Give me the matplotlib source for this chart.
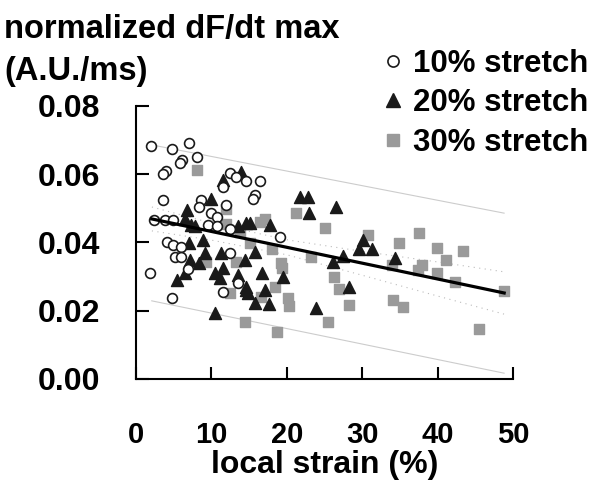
import matplotlib
matplotlib.use('Agg')
import matplotlib.pyplot as plt
from matplotlib.lines import Line2D

# 10% stretch (open circles)
x10 = [1.94, 4.72, 7.10, 6.12, 5.78, 8.13, 3.93, 3.61, 12.43, 13.32, 14.64, 11.55, 16.40,
       15.74, 15.52, 3.53, 8.69, 8.40, 10.01, 10.71, 12.00, 2.38, 3.84, 4.89, 9.50, 10.69,
       4.06, 4.93, 6.04, 5.16, 6.04, 1.85, 6.92, 4.72, 11.55, 12.43, 13.53, 19.05, 12.43]
y10 = [0.0682, 0.0673, 0.0691, 0.0643, 0.0634, 0.0651, 0.0610, 0.0602, 0.0603, 0.0591, 0.0579,
       0.0564, 0.0581, 0.0539, 0.0527, 0.0525, 0.0525, 0.0505, 0.0486, 0.0476, 0.0510, 0.0466,
       0.0467, 0.0467, 0.0451, 0.0447, 0.0400, 0.0392, 0.0388, 0.0358, 0.0358, 0.0310, 0.0321,
       0.0236, 0.0256, 0.0370, 0.0280, 0.0415, 0.0439]

# 20% stretch (filled triangles)
x20 = [13.98, 11.55, 9.99, 6.71, 6.48, 7.37, 7.80, 13.53, 14.64, 15.08, 17.72, 7.10, 8.90,
       9.13, 7.14, 8.37, 6.48, 5.46, 10.45, 11.11, 11.55, 11.34, 13.53, 14.64, 10.45, 14.42,
       21.69, 22.79, 26.55, 22.92, 30.07, 29.63, 31.31, 27.42, 26.10, 15.74, 16.76, 19.48,
       14.64, 14.85, 17.06, 15.74, 17.63, 23.90, 28.31, 34.39]
y20 = [0.0607, 0.0583, 0.0527, 0.0495, 0.0468, 0.0451, 0.0448, 0.0448, 0.0456, 0.0456, 0.0451,
       0.0399, 0.0408, 0.0368, 0.0349, 0.0339, 0.0310, 0.0290, 0.0310, 0.0295, 0.0324, 0.0368,
       0.0305, 0.0261, 0.0193, 0.0349, 0.0534, 0.0534, 0.0505, 0.0486, 0.0407, 0.0380, 0.0380,
       0.0360, 0.0344, 0.0373, 0.0310, 0.0300, 0.0270, 0.0253, 0.0261, 0.0222, 0.0220, 0.0207,
       0.0270, 0.0354]

# 30% stretch (grey squares)
x30 = [8.11, 12.00, 12.00, 13.76, 12.43, 13.32, 14.42, 21.16, 16.40, 17.06, 25.00, 30.73,
       15.08, 18.08, 23.24, 19.27, 19.40, 26.23, 26.98, 18.39, 20.15, 20.28, 16.63, 28.21,
       25.44, 18.74, 37.47, 34.92, 39.91, 43.29, 41.10, 33.96, 37.92, 37.34, 39.91, 42.33,
       48.81, 34.13, 35.45, 45.41, 9.35]
y30 = [0.0612, 0.0497, 0.0454, 0.0432, 0.0251, 0.0344, 0.0168, 0.0486, 0.0461, 0.0468, 0.0442,
       0.0422, 0.0398, 0.0380, 0.0358, 0.0339, 0.0324, 0.0300, 0.0263, 0.0269, 0.0236, 0.0214,
       0.0241, 0.0217, 0.0168, 0.0139, 0.0429, 0.0399, 0.0385, 0.0375, 0.0349, 0.0334, 0.0334,
       0.0319, 0.0312, 0.0283, 0.0259, 0.0232, 0.0212, 0.0147, 0.0344]

# regression line and bands
fit_x = [2.12, 48.81]
fit_y = [0.0469, 0.0252]
pred_x = [2.1, 48.8]
pred_hi = [0.0686, 0.0486]
pred_lo = [0.0229, 0.0017]
ci_x = [2.12, 10, 20, 30, 40, 48.81]
ci_hi = [0.0504, 0.0457, 0.0408, 0.0374, 0.0343, 0.0314]
ci_lo = [0.0434, 0.0407, 0.0364, 0.0304, 0.0243, 0.0190]

xticks = [0, 10, 20, 30, 40, 50]
yticks = [0.00, 0.02, 0.04, 0.06, 0.08]

plt.rcParams['font.family'] = ['Liberation Sans', 'DejaVu Sans']
plt.rcParams['font.weight'] = 'bold'

fig = plt.figure(figsize=(5.96, 4.86), dpi=100)
ax = fig.add_axes([0.228, 0.2202, 0.633, 0.5617])

ax.plot(pred_x, pred_hi, color='#cccccc', lw=0.8)
ax.plot(pred_x, pred_lo, color='#cccccc', lw=0.8)
ax.plot(ci_x, ci_hi, color='#bbbbbb', lw=0.8, ls=(0, (1, 4)))
ax.plot(ci_x, ci_lo, color='#bbbbbb', lw=0.8, ls=(0, (1, 4)))

ax.scatter(x30, y30, marker='s', s=55, color='#9a9a9a', zorder=3)
ax.scatter(x20, y20, marker='^', s=75, color='#1a1a1a', zorder=4)
ax.scatter(x10, y10, marker='o', s=50, facecolor='white', edgecolor='#1a1a1a', lw=1.2, zorder=5)

ax.plot(fit_x, fit_y, color='black', lw=2.3, zorder=6)

ax.set_xlim(0, 50)
ax.set_ylim(0, 0.08)
ax.set_xticks(xticks)
ax.set_yticks(yticks)
ax.set_xticklabels([str(t) for t in xticks])
ax.set_yticklabels(['%.2f' % t for t in yticks])
ax.tick_params(direction='in', length=9, width=1.5)
ax.tick_params(axis='x', labelsize=21, pad=30)
ax.tick_params(axis='y', labelsize=23, pad=26)
for side in ['top', 'right']:
    ax.spines[side].set_visible(False)
for side in ['left', 'bottom']:
    ax.spines[side].set_linewidth(1.5)

ax.set_xlabel('local strain (%)', fontsize=23, fontweight='bold', labelpad=1)

fig.text(4 / 596, 1 - 38 / 486, 'normalized dF/dt max', fontsize=23.5, fontweight='bold', va='baseline')
fig.text(4 / 596, 1 - 80 / 486, '(A.U./ms)', fontsize=23.5, fontweight='bold', va='baseline')

handles = [
    Line2D([], [], marker='o', ls='none', markersize=8, markerfacecolor='white',
           markeredgecolor='#1a1a1a', markeredgewidth=1.2),
    Line2D([], [], marker='^', ls='none', markersize=9.5, color='#1a1a1a'),
    Line2D([], [], marker='s', ls='none', markersize=8, color='#9a9a9a'),
]
fig.legend(handles, ['10% stretch', '20% stretch', '30% stretch'], loc='upper left',
           bbox_to_anchor=(380 / 596, 1 - 49 / 486), frameon=False, fontsize=22.5,
           handlelength=0.8, handletextpad=0.25, labelspacing=0.3, borderpad=0,
           borderaxespad=0)

fig.savefig('out.png', dpi=100)
